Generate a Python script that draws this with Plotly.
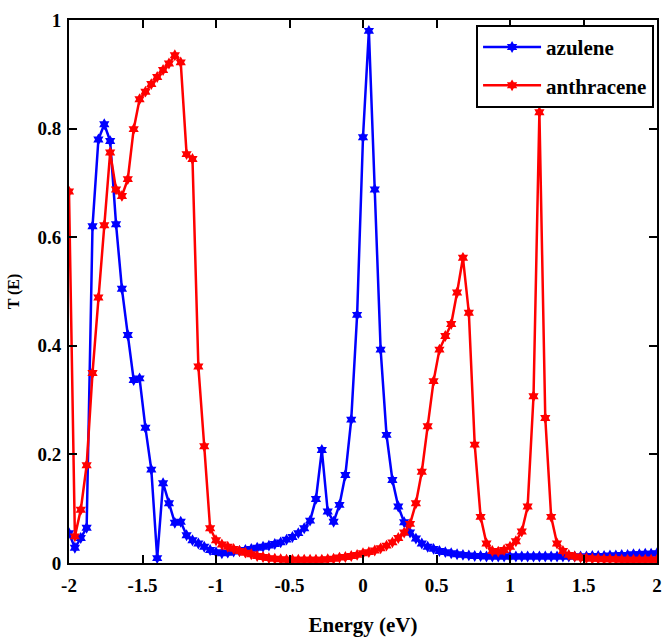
import numpy as np
import plotly.graph_objects as go

# Energy grid (eV), step 0.04
energy = np.round(np.linspace(-2, 2, 101), 2)

azulene = [
    0.055, 0.028, 0.046, 0.065, 0.620, 0.780, 0.808, 0.777, 0.624, 0.505,
    0.420, 0.337, 0.340, 0.249, 0.172, 0.009, 0.147, 0.110, 0.074, 0.076,
    0.051, 0.042, 0.036, 0.030, 0.024, 0.020, 0.018, 0.019, 0.021, 0.022,
    0.024, 0.026, 0.028, 0.030, 0.032, 0.035, 0.038, 0.043, 0.048, 0.055,
    0.064, 0.078, 0.118, 0.208, 0.095, 0.076, 0.107, 0.162, 0.264, 0.457,
    0.784, 0.980, 0.688, 0.393, 0.236, 0.153, 0.104, 0.075, 0.056, 0.045,
    0.036, 0.030, 0.026, 0.022, 0.020, 0.018, 0.016, 0.015, 0.014, 0.013,
    0.013, 0.012, 0.012, 0.012, 0.012, 0.012, 0.012, 0.012, 0.012, 0.012,
    0.012, 0.012, 0.012, 0.012, 0.012, 0.012, 0.012, 0.012, 0.012, 0.013,
    0.013, 0.013, 0.014, 0.014, 0.015, 0.015, 0.016, 0.016, 0.017, 0.017,
    0.018,
]

anthracene = [
    0.684, 0.049, 0.098, 0.180, 0.350, 0.489, 0.622, 0.756, 0.688, 0.676,
    0.707, 0.799, 0.854, 0.868, 0.882, 0.895, 0.908, 0.920, 0.935, 0.922,
    0.753, 0.744, 0.362, 0.215, 0.064, 0.042, 0.034, 0.030, 0.026, 0.022,
    0.019, 0.016, 0.013, 0.011, 0.009, 0.008, 0.007, 0.006, 0.006, 0.006,
    0.006, 0.006, 0.006, 0.006, 0.007, 0.008, 0.010, 0.011, 0.013, 0.015,
    0.018, 0.020, 0.023, 0.027, 0.032, 0.038, 0.046, 0.056, 0.072, 0.110,
    0.168, 0.252, 0.335, 0.393, 0.418, 0.440, 0.498, 0.562, 0.461, 0.218,
    0.085, 0.036, 0.022, 0.021, 0.024, 0.030, 0.040, 0.058, 0.104, 0.307,
    0.830, 0.267, 0.085, 0.036, 0.022, 0.015, 0.012, 0.010, 0.009, 0.008,
    0.008, 0.007, 0.007, 0.007, 0.006, 0.006, 0.006, 0.006, 0.006, 0.006,
    0.006,
]

x_ticks = [-2, -1.5, -1, -0.5, 0, 0.5, 1, 1.5, 2]
x_tick_labels = ["-2", "-1.5", "-1", "-0.5", "0", "0.5", "1", "1.5", "2"]
y_ticks = [0, 0.2, 0.4, 0.6, 0.8, 1]
y_tick_labels = ["0", "0.2", "0.4", "0.6", "0.8", "1"]

FONT = "Times New Roman, Liberation Serif, DejaVu Serif, serif"

fig = go.Figure()
fig.add_trace(go.Scatter(
    x=energy, y=azulene, name="azulene", mode="lines+markers", legendgroup="a",
    line=dict(color="#0000FF", width=2.5),
    marker=dict(symbol="hexagram", size=9, color="#0000FF"),
))
fig.add_trace(go.Scatter(
    x=energy, y=anthracene, name="anthracene", mode="lines+markers", legendgroup="b",
    line=dict(color="#FF0000", width=2.5),
    marker=dict(symbol="hexagram", size=9, color="#FF0000"),
))

axis_common = dict(
    showline=True, linecolor="black", linewidth=2, mirror="ticks",
    ticks="inside", ticklen=8, tickwidth=2, tickcolor="black",
    showgrid=False, zeroline=False, automargin=False,
    tickfont=dict(family=FONT, size=19, color="black", weight="bold"),
)

fig.update_xaxes(
    range=[-2, 2], tickvals=x_ticks, ticktext=x_tick_labels,
    ticklabelstandoff=4, ticklabeloverflow="allow",
    title=dict(text="Energy (eV)", font=dict(family=FONT, size=21, color="black", weight="bold"), standoff=24),
    **axis_common,
)
fig.update_yaxes(
    range=[0, 1], tickvals=y_ticks, ticktext=y_tick_labels,
    ticklabelstandoff=2,
    title=dict(text="T (E)", font=dict(family=FONT, size=16, color="black", weight="bold"), standoff=14),
    **axis_common,
)

fig.update_layout(
    width=664, height=637,
    margin=dict(l=69, r=7, t=20, b=74),
    plot_bgcolor="white", paper_bgcolor="white",
    font=dict(family=FONT),
    showlegend=True,
    legend=dict(
        x=0.995, y=0.991, xanchor="right", yanchor="top",
        bgcolor="white", bordercolor="black", borderwidth=2,
        font=dict(family=FONT, size=21, color="black", weight="bold"),
        itemwidth=58, traceorder="grouped", tracegroupgap=8,
    ),
)

fig.write_html(
    "out.html",
    config={"displayModeBar": False},
    post_script="document.body.style.margin='0';"
                "document.documentElement.style.overflow='hidden';"
                "document.body.style.overflow='hidden';",
)
